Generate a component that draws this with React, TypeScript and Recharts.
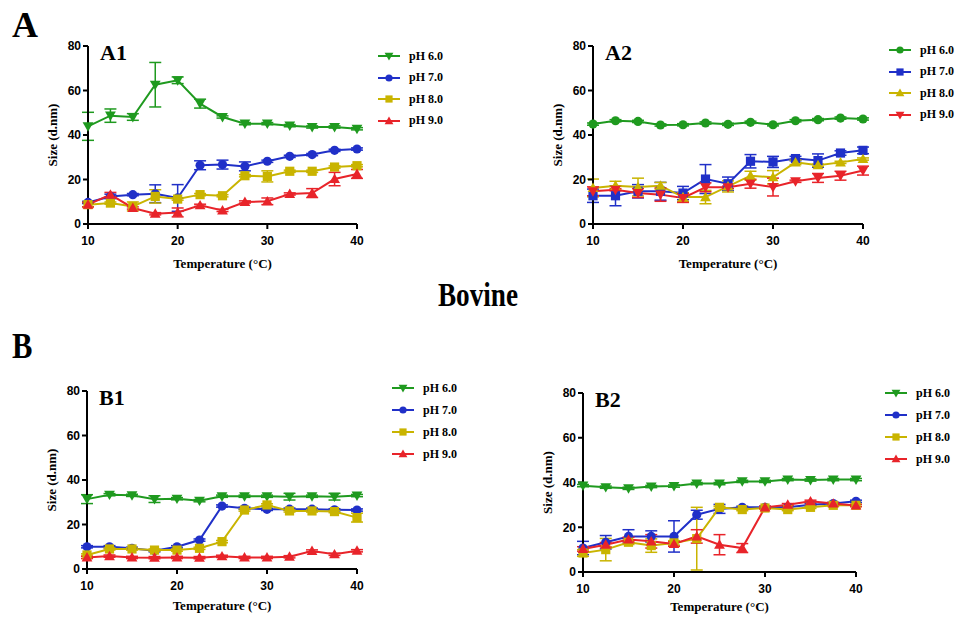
import React from "react";
import { LineChart, Line, XAxis, YAxis, ErrorBar, Legend } from "recharts";

const temps = [10, 12.5, 15, 17.5, 20, 22.5, 25, 27.5, 30, 32.5, 35, 37.5, 40];
const seriesNames = ["pH 6.0", "pH 7.0", "pH 8.0", "pH 9.0"];
const xTicks = [10, 20, 30, 40];
const yTicks = [0, 20, 40, 60, 80];

// A1
const a1Ph6 = [43.9, 48.7, 48.1, 62.6, 64.6, 54.1, 48.1, 45.1, 45.1, 44.2, 43.6, 43.6, 42.8];
const a1Ph7 = [9.7, 12.4, 13.2, 13.6, 11.7, 26.4, 26.7, 25.9, 28.2, 30.4, 31.2, 33.1, 33.7];
const a1Ph8 = [8.7, 9.4, 7.9, 12.4, 11.2, 13.2, 12.7, 21.7, 21.4, 23.7, 23.7, 25.6, 26.2];
const a1Ph9 = [8.7, 13.2, 7.2, 4.6, 5.2, 8.4, 6.1, 9.9, 10.2, 13.5, 13.9, 20.2, 22.5];
const a1Err6 = [6.3, 3, 1.5, 10, 1.5, 2, 0.5, 0.5, 0.5, 0.5, 0.5, 0.5, 0.5];
const a1Err7 = [0.5, 1, 0.5, 4, 6, 2, 2, 2, 0.5, 0.5, 0.5, 0.5, 0.5];
const a1Err8 = [1, 0.5, 2, 3, 0.5, 0.5, 0.5, 0.5, 2.5, 0.5, 0.5, 0.5, 0.5];
const a1Err9 = [1, 1, 0.5, 0.5, 2, 0.5, 0.5, 0.5, 1.5, 0.5, 2, 3, 2];

// A2
const a2Ph6 = [44.9, 46.4, 46.1, 44.5, 44.6, 45.4, 44.8, 45.7, 44.6, 46.4, 46.9, 47.6, 47.2];
const a2Ph7 = [12.7, 12.7, 14.7, 14.7, 13.9, 20.2, 18.1, 28.2, 27.9, 29.4, 28.5, 31.9, 33.1];
const a2Ph8 = [16.2, 17.2, 16.6, 17.2, 12.1, 12.1, 16.9, 21.7, 21.0, 27.7, 26.4, 27.7, 29.2];
const a2Ph9 = [14.7, 15.4, 13.9, 13.2, 11.7, 16.5, 16.5, 18.1, 16.6, 19.2, 20.7, 21.7, 24.0];
const a2Err6 = [0.5, 0.5, 0.5, 0.5, 0.5, 0.5, 0.5, 0.5, 0.5, 0.5, 0.5, 0.5, 0.5];
const a2Err7 = [3, 4.5, 3, 4, 3, 6.5, 3, 3, 2.5, 1, 3, 1, 1.5];
const a2Err8 = [4, 2, 4, 1.5, 2, 3, 2.5, 2, 3, 1, 0.5, 0.5, 0.5];
const a2Err9 = [2, 0.5, 2, 3, 2, 2, 0.5, 2, 4, 0.5, 2, 2, 2];

// B1
const b1Ph6 = [31.4, 33.4, 33.1, 31.4, 31.6, 30.7, 32.7, 32.7, 32.7, 32.5, 32.7, 32.5, 33.0];
const b1Ph7 = [10.0, 10.0, 9.3, 8.2, 10.0, 13.0, 28.3, 27.3, 26.8, 26.9, 26.9, 26.6, 26.5];
const b1Ph8 = [6.3, 9.0, 9.0, 8.5, 8.5, 9.3, 12.3, 26.5, 28.8, 26.1, 26.1, 25.8, 23.1];
const b1Ph9 = [5.2, 5.8, 5.2, 5.1, 5.2, 5.1, 5.7, 5.2, 5.2, 5.5, 8.1, 6.6, 8.2];
const b1Err6 = [2, 0.5, 0.5, 1.5, 0.5, 0.5, 0.5, 0.5, 0.5, 1.5, 0.5, 1.5, 0.5];
const b1Err7 = [0.5, 0.5, 0.5, 0.5, 0.5, 0.5, 0.5, 0.5, 0.5, 0.5, 0.5, 0.5, 0.5];
const b1Err8 = [0.5, 0.5, 0.5, 0.5, 0.5, 0.5, 0.5, 0.5, 0.5, 0.5, 0.5, 0.5, 2];
const b1Err9 = [0.5, 0.5, 0.5, 0.5, 0.5, 0.5, 0.5, 0.5, 0.5, 0.5, 0.5, 0.5, 0.5];

// B2
const b2Ph6 = [38.6, 37.9, 37.4, 38.2, 38.4, 39.5, 39.5, 40.5, 40.5, 41.3, 41.1, 41.3, 41.3];
const b2Ph7 = [10.7, 13.3, 15.9, 15.9, 15.9, 25.6, 28.2, 28.9, 28.9, 28.9, 30.1, 30.6, 31.6];
const b2Ph8 = [8.5, 10.0, 13.3, 11.8, 13.0, 14.9, 28.9, 27.9, 28.6, 27.9, 28.9, 29.8, 29.8];
const b2Ph9 = [10.3, 12.2, 14.5, 13.7, 12.5, 15.9, 12.2, 10.7, 28.9, 30.1, 31.6, 30.6, 29.7];
const b2Err6 = [0.5, 0.5, 0.5, 0.5, 0.5, 0.5, 0.5, 0.5, 0.5, 0.5, 0.5, 0.5, 0.5];
const b2Err7 = [3, 3, 3, 2.5, 7, 2, 2, 0.5, 0.5, 0.5, 0.5, 0.5, 0.5];
const b2Err8 = [1.5, 5, 1, 3, 1, 14, 0.5, 0.5, 0.5, 0.5, 0.5, 0.5, 0.5];
const b2Err9 = [1, 1, 1, 3, 1, 3, 4.5, 2, 0.5, 0.5, 0.5, 0.5, 0.5];

const COLORS = ["#1f9a1f", "#2030c8", "#c9b400", "#e8242a"];
const SERIF = '"Liberation Serif", "Times New Roman", serif';
const SANS = '"Liberation Sans", Arial, sans-serif';

type Shape = "circle" | "square" | "up" | "down";

function Marker({ shape, cx, cy, color, r = 4.6 }: { shape: Shape; cx: number; cy: number; color: string; r?: number }) {
  if (shape === "circle") return <circle cx={cx} cy={cy} r={r} fill={color} />;
  if (shape === "square") return <rect x={cx - r} y={cy - r} width={r * 2} height={r * 2} fill={color} />;
  const s = r + 0.8;
  if (shape === "up")
    return <polygon points={`${cx},${cy - s} ${cx + s},${cy + s * 0.75} ${cx - s},${cy + s * 0.75}`} fill={color} />;
  return <polygon points={`${cx},${cy + s} ${cx + s},${cy - s * 0.75} ${cx - s},${cy - s * 0.75}`} fill={color} />;
}

const buildRows = (vals: number[][], errs: number[][]) =>
  temps.map((t, i) => ({
    t,
    v0: vals[0][i], e0: errs[0][i],
    v1: vals[1][i], e1: errs[1][i],
    v2: vals[2][i], e2: errs[2][i],
    v3: vals[3][i], e3: errs[3][i],
  }));

const XLabel = (props: any) => {
  const vb = props.viewBox;
  return (
    <text x={vb.x + vb.width / 2} y={vb.y + props.dy} textAnchor="middle" fontFamily={SERIF} fontWeight={700} fontSize={13} fill="#000">
      Temperature (°C)
    </text>
  );
};

const YLabel = (props: any) => {
  const vb = props.viewBox;
  const x = vb.x + vb.width - 36;
  const y = vb.y + vb.height / 2;
  return (
    <text x={x} y={y} transform={`rotate(-90 ${x} ${y})`} textAnchor="middle" dominantBaseline="central" fontFamily={SERIF} fontWeight={700} fontSize={13} fill="#000">
      Size (d.nm)
    </text>
  );
};

interface PanelProps {
  title: string;
  rows: ReturnType<typeof buildRows>;
  shapes: Shape[];
  plotX: number;
  plotY: number;
  plotW: number;
  plotH: number;
  legendX: number;
  legendY: number;
  legendGap: number;
  xLabelDy: number;
}

const Y_AXIS_W = 60;
const TOP_PAD = 14;
const X_AXIS_H = 50;

function Panel({ title, rows, shapes, plotX, plotY, plotW, plotH, legendX, legendY, legendGap, xLabelDy }: PanelProps) {
  const left = plotX - Y_AXIS_W;
  const top = plotY - TOP_PAD;
  const right = 956 - (plotX + plotW) > 120 ? 120 : 956 - (plotX + plotW);
  const width = Y_AXIS_W + plotW + right;
  const height = TOP_PAD + plotH + X_AXIS_H;

  const renderLegend = (p: any) => (
    <div>
      {(p.payload || []).map((item: any, i: number) => (
        <div key={item.value} style={{ height: legendGap, display: "flex", alignItems: "center" }}>
          <svg width={22} height={12}>
            <line x1={0} x2={22} y1={6} y2={6} stroke={item.color} strokeWidth={2} />
            <Marker shape={shapes[i]} cx={11} cy={6} color={item.color} r={3.6} />
          </svg>
          <span style={{ marginLeft: 9, fontFamily: SERIF, fontWeight: 700, fontSize: 12, color: "#000", whiteSpace: "nowrap" }}>
            {item.value}
          </span>
        </div>
      ))}
    </div>
  );

  return (
    <div style={{ position: "absolute", left, top, width, height }}>
      <LineChart width={width} height={height} data={rows} margin={{ top: TOP_PAD, right, left: 0, bottom: 0 }}>
        <XAxis
          dataKey="t"
          type="number"
          domain={[10, 40]}
          ticks={xTicks}
          height={X_AXIS_H}
          axisLine={{ stroke: "#000", strokeWidth: 2 }}
          tickLine={{ stroke: "#000", strokeWidth: 2 }}
          tick={{ fill: "#000", fontSize: 12, fontWeight: 700, fontFamily: SANS }}
          tickSize={5}
          tickMargin={7}
          label={<XLabel dy={xLabelDy} />}
        />
        <YAxis
          type="number"
          domain={[0, 80]}
          ticks={yTicks}
          width={Y_AXIS_W}
          axisLine={{ stroke: "#000", strokeWidth: 2 }}
          tickLine={{ stroke: "#000", strokeWidth: 2 }}
          tick={{ fill: "#000", fontSize: 12, fontWeight: 700, fontFamily: SANS }}
          tickSize={5}
          tickMargin={2}
          label={<YLabel />}
        />
        {[0, 1, 2, 3].map((k) => (
          <Line
            key={k}
            dataKey={`v${k}`}
            name={seriesNames[k]}
            stroke={COLORS[k]}
            strokeWidth={2}
            isAnimationActive={false}
            activeDot={false}
            dot={(d: any) => <Marker key={`d${k}-${d.index}`} shape={shapes[k]} cx={d.cx} cy={d.cy} color={COLORS[k]} />}
          >
            <ErrorBar dataKey={`e${k}`} width={6} stroke={COLORS[k]} strokeWidth={1.5} isAnimationActive={false} />
          </Line>
        ))}
        <Legend
          layout="horizontal"
          verticalAlign="middle"
          align="center"
          content={renderLegend}
          wrapperStyle={{ left: legendX - left, top: legendY - legendGap / 2 - top, width: 90 }}
        />
      </LineChart>
      <div
        style={{
          position: "absolute",
          left: Y_AXIS_W + 12,
          top: TOP_PAD - 6,
          fontFamily: SERIF,
          fontWeight: 700,
          fontSize: 22,
          color: "#000",
        }}
      >
        {title}
      </div>
    </div>
  );
}

const shapesA: Shape[] = ["down", "circle", "square", "up"];
const shapesA2: Shape[] = ["circle", "square", "up", "down"];

export default function App() {
  return (
    <div style={{ position: "absolute", left: 0, top: 0, width: 956, height: 617, background: "#fff", overflow: "hidden" }}>
      <div style={{ position: "absolute", left: 12, top: 4, fontFamily: SERIF, fontWeight: 700, fontSize: 36 }}>A</div>
      <div style={{ position: "absolute", left: 12, top: 325, fontFamily: SERIF, fontWeight: 700, fontSize: 36, transform: "scaleX(0.85)", transformOrigin: "left" }}>B</div>
      <div
        style={{
          position: "absolute",
          left: 0,
          width: 956,
          top: 276,
          textAlign: "center",
          fontFamily: SERIF,
          fontWeight: 700,
          fontSize: 34,
          transform: "scaleX(0.8)",
        }}
      >
        Bovine
      </div>
      <Panel
        title="A1"
        rows={buildRows([a1Ph6, a1Ph7, a1Ph8, a1Ph9], [a1Err6, a1Err7, a1Err8, a1Err9])}
        shapes={shapesA}
        plotX={88}
        plotY={46}
        plotW={269}
        plotH={178}
        legendX={378}
        legendY={56}
        legendGap={21.5}
        xLabelDy={44}
      />
      <Panel
        title="A2"
        rows={buildRows([a2Ph6, a2Ph7, a2Ph8, a2Ph9], [a2Err6, a2Err7, a2Err8, a2Err9])}
        shapes={shapesA2}
        plotX={593}
        plotY={46}
        plotW={270}
        plotH={178}
        legendX={889}
        legendY={50}
        legendGap={21.5}
        xLabelDy={44}
      />
      <Panel
        title="B1"
        rows={buildRows([b1Ph6, b1Ph7, b1Ph8, b1Ph9], [b1Err6, b1Err7, b1Err8, b1Err9])}
        shapes={shapesA}
        plotX={87}
        plotY={391}
        plotW={270}
        plotH={178}
        legendX={392}
        legendY={388}
        legendGap={22}
        xLabelDy={41}
      />
      <Panel
        title="B2"
        rows={buildRows([b2Ph6, b2Ph7, b2Ph8, b2Ph9], [b2Err6, b2Err7, b2Err8, b2Err9])}
        shapes={shapesA}
        plotX={583}
        plotY={393}
        plotW={273}
        plotH={179}
        legendX={885}
        legendY={393}
        legendGap={22}
        xLabelDy={39}
      />
    </div>
  );
}
